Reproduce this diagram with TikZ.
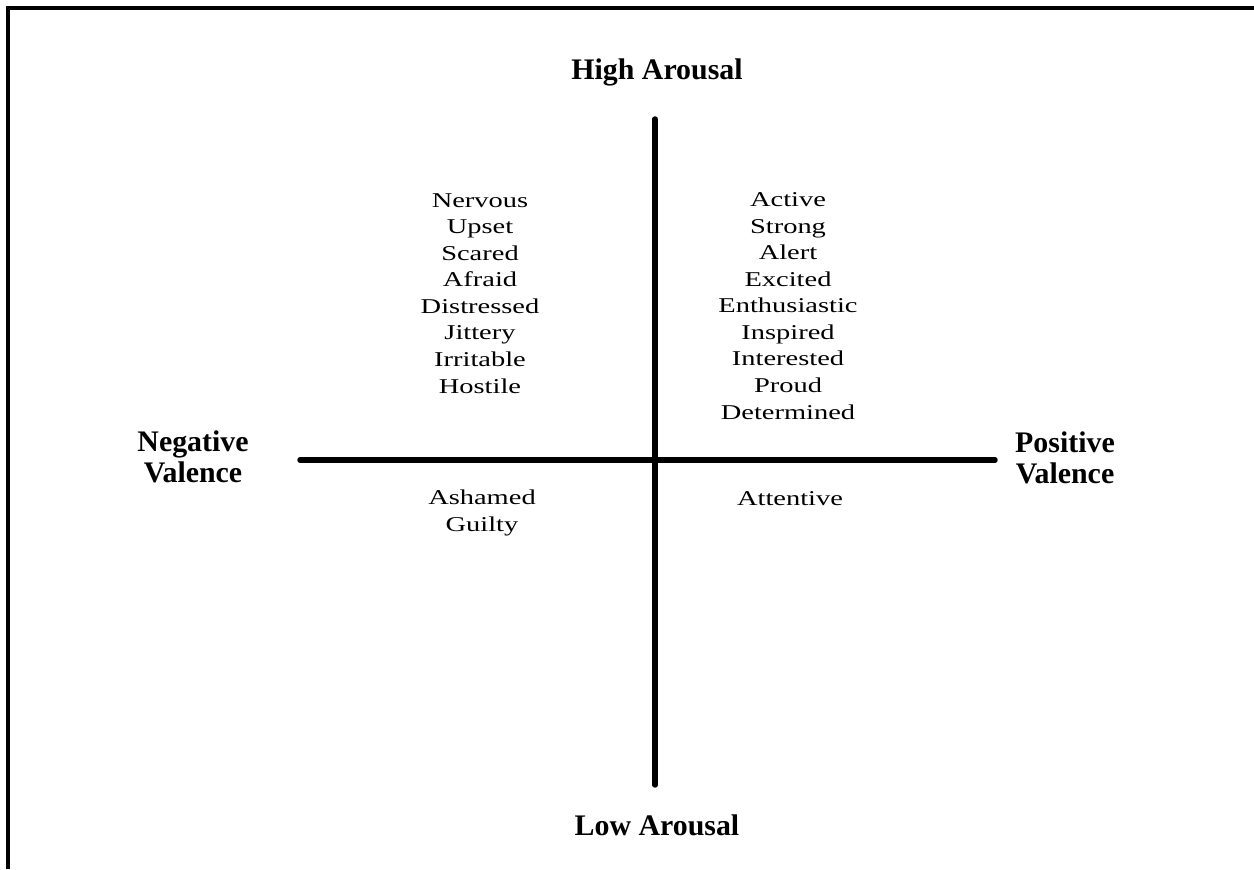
\documentclass[tikz,border=0pt]{standalone}
\usepackage{fontspec}
\setmainfont{Liberation Serif}
\newfontfamily\wordfont[FakeStretch=1.35]{Liberation Serif}
\usepackage{tikz}

\tikzset{
    frame/.style={line width=2.3pt},
    axis/.style={line width=3.1pt, line cap=round},
    word/.style={align=center, inner sep=0pt, anchor=base,
        font=\wordfont\fontsize{12}{15.1}\selectfont},
    pole/.style={align=center, inner sep=0pt, anchor=base,
        font=\bfseries\fontsize{17}{17.6}\selectfont}
}

\begin{document}
\begin{tikzpicture}[x=0.02cm, y=-0.02cm]
        \useasboundingbox (0,0) rectangle (1254,869);

        % outer frame
        \draw[frame] (8,869) -- (8,8) -- (1254,8);

        % axes
        \coordinate (up) at (655,119);
        \coordinate (down) at (655,785);
        \coordinate (lft) at (300,460);
        \coordinate (rgt) at (995,460);
        \draw[axis] (up) -- (down);
        \draw[axis] (lft) -- (rgt);

        % poles (base = last line)
        \node[pole] (high) at (657,79) {High Arousal};
        \node[pole] (low) at (657,835) {Low Arousal};
        \node[pole] (neg) at (193,482) {Negative\\Valence};
        \node[pole] (pos) at (1065,483) {Positive\\Valence};

        % quadrants
        \node[word] (hineg) at (480,393) {Nervous\\Upset\\Scared\\Afraid\\Distressed\\Jittery\\Irritable\\Hostile};
        \node[word] (hipos) at (788,419) {Active\\Strong\\Alert\\Excited\\Enthusiastic\\Inspired\\Interested\\Proud\\Determined};
        \node[word] (loneg) at (482,531) {Ashamed\\Guilty};
        \node[word] (lopos) at (790,505) {Attentive};
\end{tikzpicture}
\end{document}
